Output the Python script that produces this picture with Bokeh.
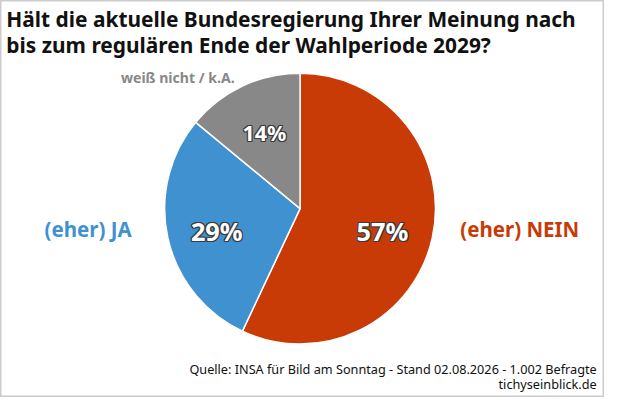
import numpy as np
from bokeh.plotting import figure
from bokeh.models import Range1d, ColumnDataSource
from bokeh.core.properties import value
from bokeh.embed import file_html
from bokeh.resources import INLINE

title_lines = ["Hält die aktuelle Bundesregierung Ihrer Meinung nach",
               "bis zum regulären Ende der Wahlperiode 2029?"]
categories = ["(eher) NEIN", "(eher) JA", "weiß nicht / k.A."]
values = [57, 29, 14]
colors = ["#C83B07", "#3F92CF", "#888888"]
source_lines = ["Quelle: INSA für Bild am Sonntag - Stand 02.08.2026 - 1.002 Befragte",
                "tichyseinblick.de"]

W, H = 604, 397
SX, SY = W / 620, H / 413

def X(x):
    return x * SX

def Y(y):
    return H - y * SY

p = figure(width=W, height=H, output_backend="svg", toolbar_location=None,
           x_range=Range1d(0, W), y_range=Range1d(0, H), min_border=0)
p.axis.visible = False
p.grid.visible = False
p.outline_line_color = "#cccccc"
p.outline_line_width = 2
p.background_fill_color = "white"
p.border_fill_color = "white"

# pie: clockwise from top
vals = np.array(values, dtype=float)
frac = vals / vals.sum()
ends = np.pi / 2 - np.concatenate([[0], np.cumsum(frac)[:-1]]) * 2 * np.pi
starts = ends - frac * 2 * np.pi
cx, cy = X(307.5), Y(216.5)
r = 139 * SX
src = ColumnDataSource(dict(start=starts, end=ends, color=colors))
p.wedge(x=cx, y=cy, radius=r, radius_units="screen", start_angle="start", end_angle="end",
        fill_color="color", line_color="white", line_width=1.5, source=src)

font = value("Noto Sans")

# percentage labels (white with thin dark edge)
pct_pos = [(392, 240, 26), (222, 240, 26), (271, 137, 22)]
offs = [(-1, 0), (1, 0), (0, -1), (0, 1), (-1, -1), (1, 1), (-1, 1), (1, -1)]
for (x, y, fs), v in zip(pct_pos, values):
    for dx, dy in offs:
        p.text(x=[X(x)], y=[Y(y)], text=[f"{v}%"], text_font=font, text_font_style="bold",
               text_font_size=f"{fs*SX:.1f}px", text_color="#3a3a3a", text_align="center",
               text_baseline="middle", x_offset=dx, y_offset=dy)
    p.text(x=[X(x)], y=[Y(y)], text=[f"{v}%"], text_font=font, text_font_style="bold",
           text_font_size=f"{fs*SX:.1f}px", text_color="white", text_align="center",
           text_baseline="middle")

# category labels
cat_pos = [(533, 238, 21), (90, 238, 21), (182, 80, 14.5)]
for (x, y, fs), c, col in zip(cat_pos, categories, colors):
    p.text(x=[X(x)], y=[Y(y)], text=[c], text_font=font, text_font_style="bold",
           text_font_size=f"{fs*SX:.1f}px", text_color=col, text_align="center",
           text_baseline="middle")

# title
for i, t in enumerate(title_lines):
    p.text(x=[X(6)], y=[Y(19 + i * 27)], text=[t], text_font=font, text_font_style="bold",
           text_font_size=f"{21.5*SX:.1f}px", text_color="#111111", text_align="left",
           text_baseline="middle")

# source
for i, t in enumerate(source_lines):
    p.text(x=[X(612)], y=[Y(383 + i * 16)], text=[t], text_font=font,
           text_font_size=f"{13*SX:.1f}px", text_color="#111111", text_align="right",
           text_baseline="middle")

open("out.html", "w").write(file_html(p, INLINE))
